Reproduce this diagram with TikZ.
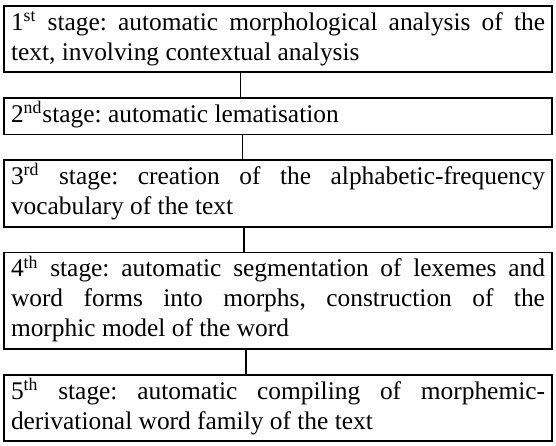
\documentclass[tikz,border=0pt]{standalone}
\usepackage{fontspec}
\setmainfont{Liberation Serif}
\usetikzlibrary{positioning,calc}
\hyphenpenalty=10000
\frenchspacing

\begin{document}
\begin{tikzpicture}[
  stg/.style={draw, line width=0.9pt, text width=267pt, align=justify,
    inner xsep=3.5pt, inner ysep=1.6pt,
    font=\fontsize{12.7}{15}\selectfont,
    execute at begin node={\strut}, execute at end node={\strut}},
  ln/.style={line width=0.75pt},
  node distance=12pt
]
  \useasboundingbox (0,0) rectangle (278pt,-222.5pt);
  \node[stg, anchor=north] (s1) at (139pt,-2.5pt)
    {1\textsuperscript{st} stage: automatic morphological analysis of the\linebreak
     text, involving contextual analysis};
  \node[stg, below=of s1] (s2)
    {2\textsuperscript{nd}stage: automatic lematisation};
  \node[stg, below=of s2] (s3)
    {3\textsuperscript{rd} stage: creation of the alphabetic-frequency\linebreak
     vocabulary of the text};
  \node[stg, below=of s3] (s4)
    {4\textsuperscript{th} stage: automatic segmentation of lexemes and\linebreak
     word forms into morphs, construction of the\linebreak
     morphic model of the word};
  \node[stg, below=of s4] (s5)
    {5\textsuperscript{th} stage: automatic compiling of morphemic-\linebreak
     derivational word family of the text};
  \foreach \a/\b/\f in {s1/s2/0.432,s2/s3/0.435,s3/s4/0.438,s4/s5/0.442}
    \draw[ln] ($(\a.south west)!\f!(\a.south east)$) -- ($(\b.north west)!\f!(\b.north east)$);
\end{tikzpicture}
\end{document}
